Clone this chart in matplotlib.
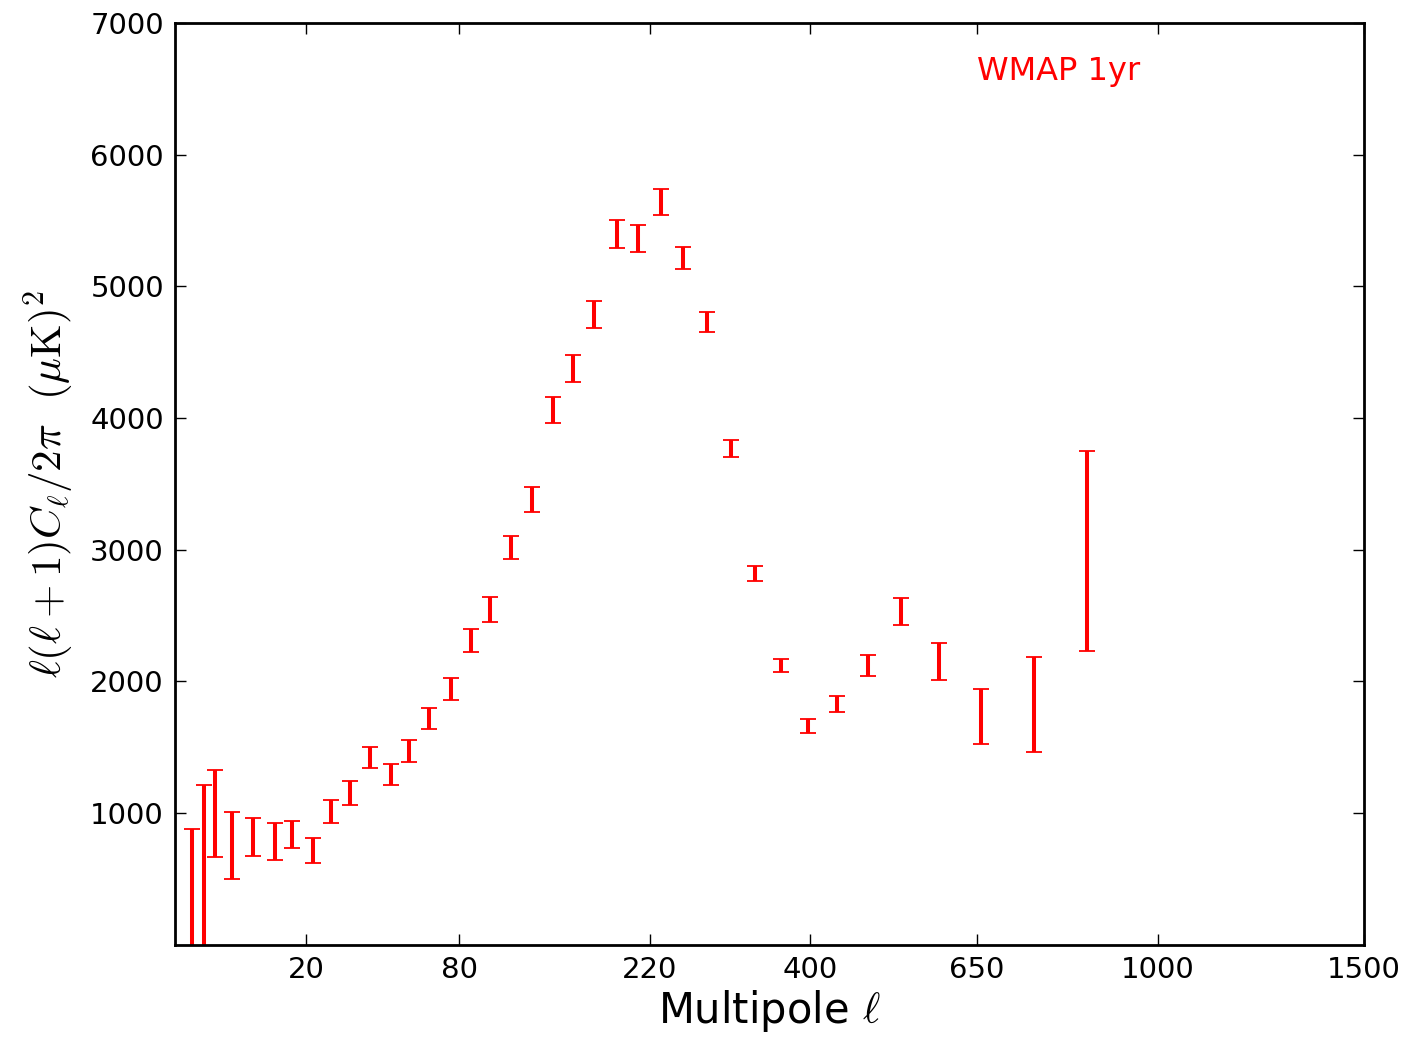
import numpy as np
import matplotlib
matplotlib.use("Agg")
import matplotlib.pyplot as plt

plt.rcParams["mathtext.fontset"] = "cm"
plt.rcParams["font.family"] = ["DejaVu Sans"]

# WMAP 1yr binned power spectrum
ell = [2, 3, 4, 6, 9, 13, 16.7, 21.8, 26.7, 32.8, 39.7, 47.7, 55.6, 64.6,
       75.5, 86.5, 97.5, 110.6, 124.5, 139.4, 154.5, 171.4, 190.6, 209.5,
       230.6, 252.3, 277, 303.6, 331, 362.9, 396.8, 436, 478.9, 528, 586.8,
       658, 751, 853]
dl = [250, 450, 997, 756, 819, 786, 839, 716, 1011, 1152, 1420, 1295, 1471,
      1719, 1943, 2310, 2545, 3017, 3380, 4062, 4376, 4787, 5399, 5363, 5641,
      5216, 4730, 3768, 2819, 2118, 1660, 1830, 2120, 2531, 2148, 1736, 1824,
      2991]
err = [630, 763, 331, 255, 143, 140, 103, 96, 88, 89, 78, 80, 86, 81, 85, 90,
       92, 88, 94, 100, 102, 103, 105, 102, 97, 84, 77, 64, 55, 49, 52, 60, 79,
       103, 140, 209, 358, 760]

xticks = [20, 80, 220, 400, 650, 1000, 1500]
yticks = [1000, 2000, 3000, 4000, 5000, 6000, 7000]
power = 0.45

fig = plt.figure(figsize=(14.12, 10.38), dpi=100)
ax = fig.add_axes([0.124, 0.0899, 0.842, 0.8879])

ax.errorbar(ell, dl, yerr=err, fmt="none", ecolor="red", elinewidth=2.9,
            capsize=5.8, capthick=1.3)

ax.set_xscale("function", functions=(lambda x: np.sign(x) * np.abs(x) ** power,
                                     lambda u: np.sign(u) * np.abs(u) ** (1 / power)))
ax.set_xlim(1, 1500)
ax.set_ylim(0, 7000)
ax.set_xticks(xticks)
ax.set_xticklabels([str(t) for t in xticks])
ax.set_yticks(yticks)
ax.minorticks_off()

ax.tick_params(direction="in", length=8, width=1, top=True, right=True,
               labelsize=21, pad=8)
for s in ax.spines.values():
    s.set_linewidth(2)

ax.set_xlabel(r"Multipole $\ell$", fontsize=30, labelpad=3)
ax.set_ylabel(r"$\ell(\ell+1)C_\ell/2\pi\ \ (\mu{\rm K})^2$", fontsize=31,
              labelpad=10)

ax.text(0.743, 0.947, "WMAP 1yr", color="red", fontsize=23,
        ha="center", va="center", transform=ax.transAxes)

fig.savefig("out.png", dpi=100)
